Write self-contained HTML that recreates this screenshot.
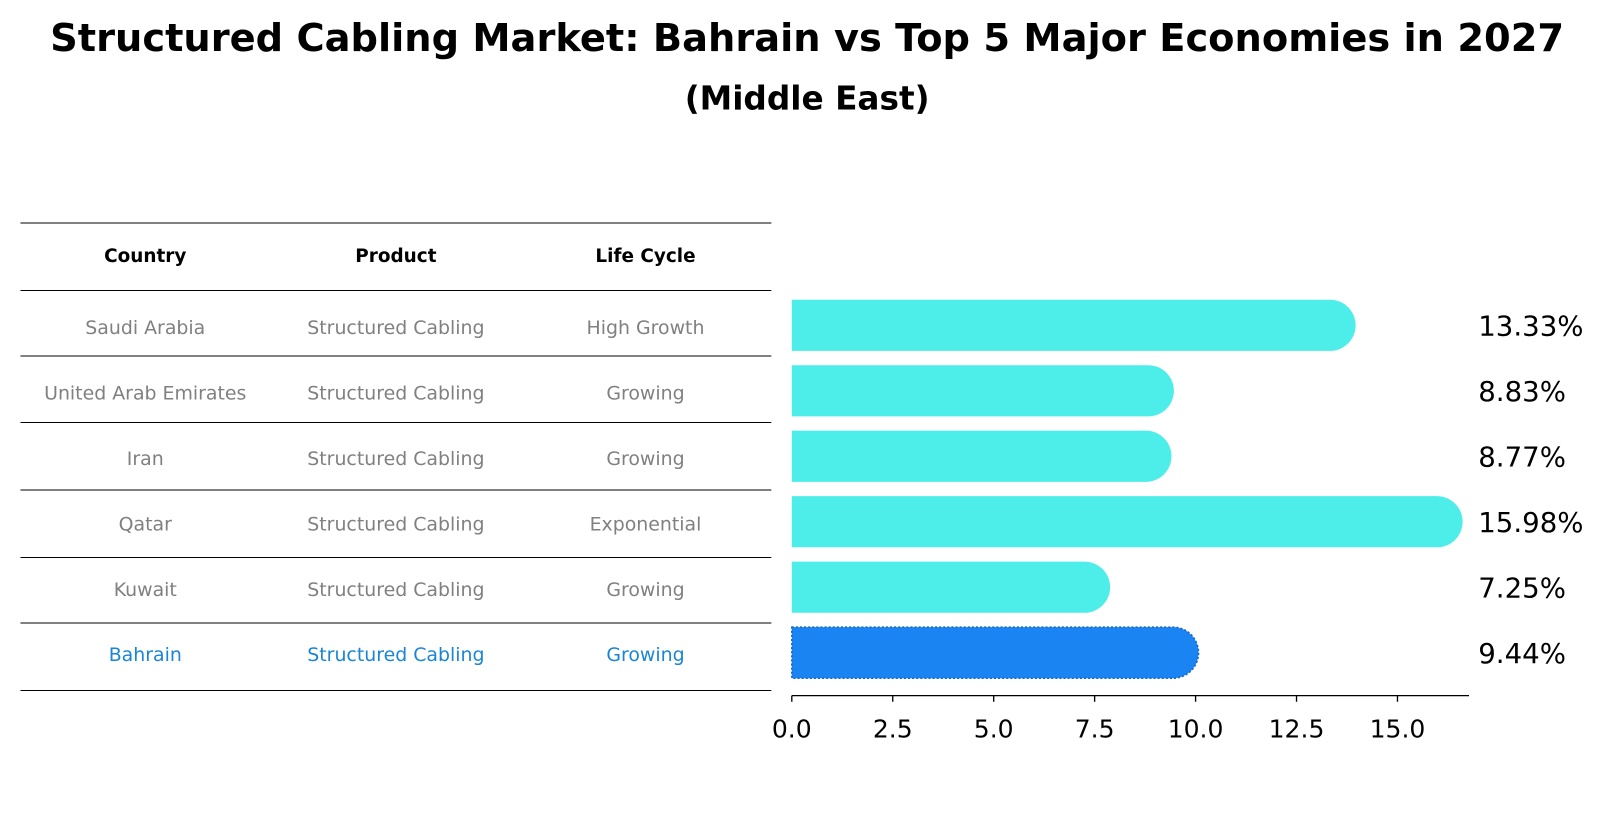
<!DOCTYPE html>
<html><head><meta charset="utf-8"><style>
body{margin:0;background:#fff;font-family:"Liberation Sans","DejaVu Sans",sans-serif}
#wrap{position:relative;width:1604px;height:823px;overflow:hidden}
</style></head><body>
<div id="wrap">
<svg id="svg" width="1604" height="823" xmlns="http://www.w3.org/2000/svg">
<g transform="scale(1.023)">
<text x="789" y="50" text-anchor="middle" font-family="DejaVu Sans, Liberation Sans, sans-serif" font-weight="bold" font-size="37.5">Structured Cabling Market: Bahrain vs Top 5 Major Economies in 2027</text>
<text x="789" y="107" text-anchor="middle" font-family="DejaVu Sans, Liberation Sans, sans-serif" font-weight="bold" font-size="32">(Middle East)</text>
<g id="table"></g>
<g id="bars"></g>
</g>
</svg>
</div>
<script>
const countries=["Saudi Arabia","United Arab Emirates","Iran","Qatar","Kuwait","Bahrain"];
const products=["Structured Cabling","Structured Cabling","Structured Cabling","Structured Cabling","Structured Cabling","Structured Cabling"];
const lifeCycles=["High Growth","Growing","Growing","Exponential","Growing","Growing"];
const values=[13.33,8.83,8.77,15.98,7.25,9.44];
const ticks=[0,2.5,5,7.5,10,12.5,15];
const NS="http://www.w3.org/2000/svg";
function mk(tag,attrs,parent){const e=document.createElementNS(NS,tag);for(const k in attrs)e.setAttribute(k,attrs[k]);parent.appendChild(e);return e;}
const x0=774,scale=39.47;
function xs(v){return x0+v*scale;}
const rowY0=318,rowStep=64,barH=50;
function ys(i){return rowY0+i*rowStep;}
const tbl=document.getElementById('table');
const lineYs=[218,284,348,413,479,545,609,675];
lineYs.forEach((y,i)=>{const l=mk('line',{x1:20,x2:754,y1:y,y2:y,stroke:'#000','stroke-width':1},tbl);

});
const colX=[142,387,631];
["Country","Product","Life Cycle"].forEach((h,j)=>{const t=mk('text',{x:colX[j],y:256,'text-anchor':'middle','font-size':'18','font-weight':'bold','font-family':'DejaVu Sans, sans-serif'},tbl);t.textContent=h;

});
countries.forEach((c,i)=>{const col=i===countries.length-1?'#1a85d6':'#808080';
[c,products[i],lifeCycles[i]].forEach((s,j)=>{const t=mk('text',{x:colX[j],y:ys(i)+3,'text-anchor':'middle','dominant-baseline':'middle','font-size':'18.5',fill:col,'font-family':'DejaVu Sans, sans-serif'},tbl);t.textContent=s;

});});
const bg=document.getElementById('bars');
values.forEach((v,i)=>{const last=i===values.length-1;const fill=last?'#1a85f2':'#4deeea';const xe=xs(v),y=ys(i)-barH/2,r=barH/2;
const p=mk('path',{d:`M${x0},${y} H${xe} A${r},${r} 0 0 1 ${xe},${y+barH} H${x0} Z`,fill:fill},bg);
if(last){p.setAttribute('stroke','#1566c8');p.setAttribute('stroke-dasharray','2,2');p.setAttribute('stroke-width','1.5');}


const t=mk('text',{x:1445,y:ys(i)+10,'font-size':'27','font-family':'DejaVu Sans, sans-serif'},bg);t.textContent=v.toFixed(2)+'%';

});
const ax=mk('line',{x1:x0,x2:1436,y1:680,y2:680,stroke:'#000','stroke-width':1.3},bg);


ticks.forEach(v=>{const l=mk('line',{x1:xs(v),x2:xs(v),y1:680,y2:686,stroke:'#000','stroke-width':1.3},bg);


const t=mk('text',{x:xs(v),y:721,'text-anchor':'middle','font-size':'24.5','font-family':'DejaVu Sans, sans-serif'},bg);t.textContent=v.toFixed(1);

});
</script>
</body></html>
